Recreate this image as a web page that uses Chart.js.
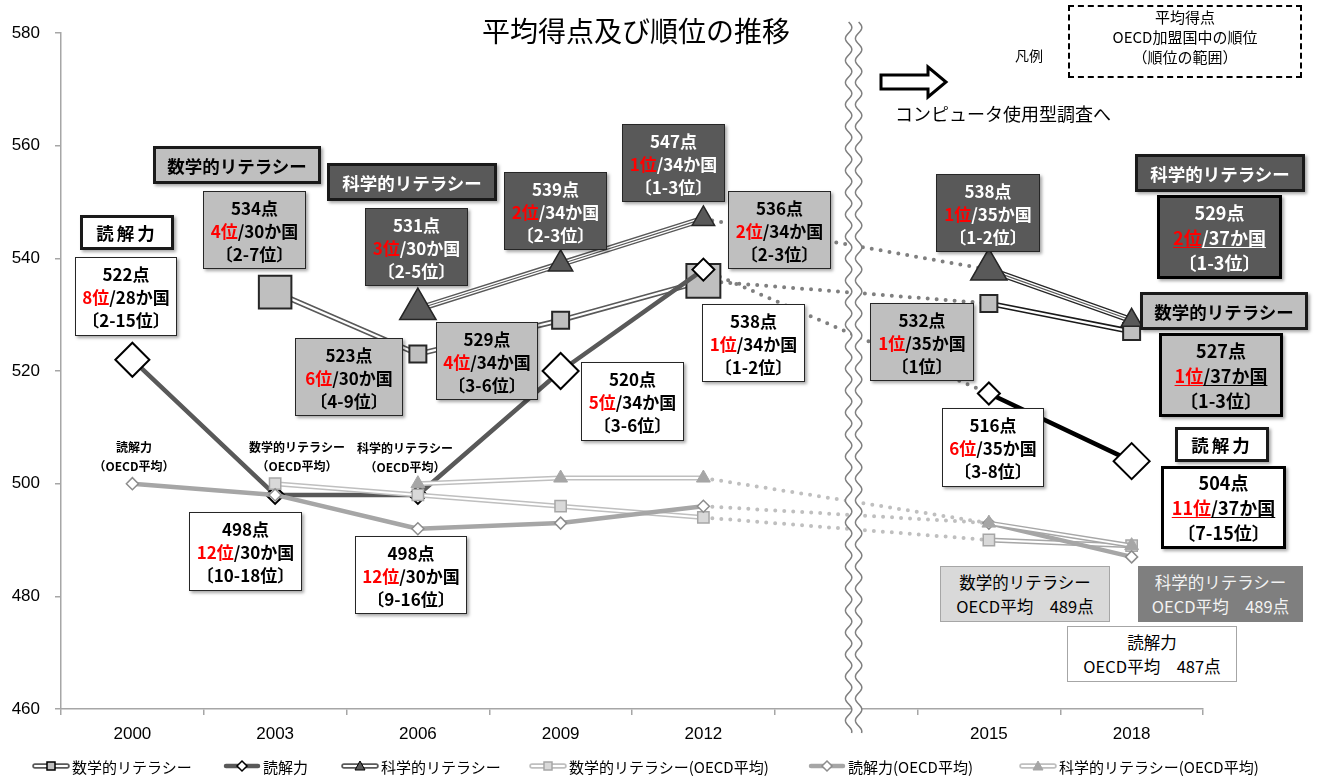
<!DOCTYPE html>
<html lang="ja">
<head>
<meta charset="utf-8">
<title>平均得点及び順位の推移</title>
<script src="https://cdn.jsdelivr.net/npm/chart.js@4.4.1/dist/chart.umd.min.js"></script>
<style>
  html, body { margin: 0; padding: 0; background: #fff; }
  #wrap { position: relative; width: 1321px; height: 779px; overflow: hidden; font-family: 'Noto Sans CJK JP', sans-serif; color: #000; }
  #chart { position: absolute; left: 0; top: 0; }
  .abs { position: absolute; white-space: nowrap; }
  .box { position: absolute; box-sizing: border-box; display: flex; flex-direction: column; justify-content: center; align-items: center; text-align: center; white-space: nowrap; box-shadow: 2px 2px 3px rgba(0,0,0,.35); }
  .val { font-weight: 700; font-size: 17px; line-height: 23px; border: 1.5px solid #262626; }
  .val.big { font-size: 18px; line-height: 25px; border: 3px solid #000; }
  .w { background: #fff; color: #000; }
  .g { background: #bfbfbf; color: #000; }
  .d { background: #595959; color: #fff; }
  .r { color: #ff0000; }
  .u { text-decoration: underline; text-underline-offset: 2px; }
  .cat { font-weight: 700; font-size: 17.5px; border: 3px solid #1a1a1a; }
  .oecd { font-size: 16.5px; line-height: 24px; box-shadow: none; }
  .tiny { font-weight: 700; font-size: 12px; line-height: 19px; text-align: center; transform: translateX(-50%); }
  .leg { position: absolute; top: 757px; height: 18px; display: flex; align-items: center; font-size: 15px; white-space: nowrap; }
  .leg svg { margin-right: 2px; }
</style>
</head>
<body>
<div id="wrap">
  <canvas id="chart" width="1321" height="779"></canvas>
</div>
<script>
// 調査年（5番目の空欄はコンピュータ使用型調査への切り替え）
const years = ['2000', '2003', '2006', '2009', '2012', '', '2015', '2018'];
const yTicks = [460, 480, 500, 520, 540, 560, 580];
const seriesNames = ['数学的リテラシー', '読解力', '科学的リテラシー'];

// 日本の平均得点
const mathJp = [null, 534, 523, 529, 536, null, 532, 527];
const readJp = [522, 498, 498, 520, 538, null, 516, 504];
const sciJp  = [null, null, 531, 539, 547, null, 538, 529];
// OECD平均
const mathOecd = [null, 500, 498, 496, 494, null, 490, 489];
const readOecd = [500, 498, 492, 493, 496, null, 493, 487];
const sciOecd  = [null, null, 500, 501, 501, null, 493, 489];

// OECD加盟国中の順位
const nations   = [28, 30, 30, 34, 34, null, 35, 37];
const mathRank  = [null, 4, 6, 4, 2, null, 1, 1];
const mathRange = [null, '2-7', '4-9', '3-6', '2-3', null, '1', '1-3'];
const readRank  = [8, 12, 12, 5, 1, null, 6, 11];
const readRange = ['2-15', '10-18', '9-16', '3-6', '1-2', null, '3-8', '7-15'];
const sciRank   = [null, null, 3, 2, 1, null, 1, 2];
const sciRange  = [null, null, '2-5', '2-3', '1-3', null, '1-2', '1-3'];

// marker sizes
const mathR = [0, 23, 12, 12, 24, 0, 12, 12];
const readR = [17, 9, 9, 18, 11, 0, 11, 18];
const sciR  = [0, 0, 21, 14, 13, 0, 21, 12];

// box positions [left, top, width, height]
const readBox = [[75,257,102,79],[189,512,113,79],[355,536,112,78],[581,362,103,79],[702,304,103,78],null,[942,408,102,79],[1161,466,125,83]];
const mathBox = [null,[203,191,103,78],[295,338,108,78],[436,322,102,78],[728,191,103,78],null,[870,303,104,78],[1159,333,124,84]];
const sciBox  = [null,null,[365,208,103,78],[504,172,103,78],[622,124,103,78],null,[936,174,104,78],[1157,195,125,84]];

Chart.defaults.font.family = "'Liberation Sans Narrow', 'Liberation Sans', 'Noto Sans CJK JP', sans-serif";

const later = (a, b) => ({ borderColor: c => c.p0DataIndex >= 6 ? b : a });

function line(data, color, width, order, extra) {
  return Object.assign({ data, borderColor: color, borderWidth: width, pointRadius: 0, pointHoverRadius: 0,
    fill: false, tension: 0, spanGaps: false, borderCapStyle: 'round', borderJoinStyle: 'round', order }, extra || {});
}
function bridge(data, color, order) {
  const d = data.map((v, i) => (i === 4 || i === 6) ? v : null);
  return { data: d, borderColor: color, borderWidth: 4, borderDash: [0, 9], borderCapStyle: 'round',
    spanGaps: true, pointRadius: 0, pointHoverRadius: 0, order };
}
function marks(data, style, radius, fill, border, bw, order) {
  return { data, showLine: false, pointStyle: style, pointRadius: radius, pointHoverRadius: radius,
    pointBackgroundColor: fill, pointBorderColor: border, pointBorderWidth: bw, order };
}

const datasets = [
  bridge(mathJp, '#7f7f7f', 130), bridge(readJp, '#7f7f7f', 130), bridge(sciJp, '#7f7f7f', 130),
  bridge(mathOecd, '#bfbfbf', 125), bridge(readOecd, '#bfbfbf', 125), bridge(sciOecd, '#bfbfbf', 125),

  line(mathJp, '#595959', 5.5, 100, { segment: later('#595959', '#1a1a1a') }),
  line(mathJp, '#ffffff', 2.2, 99),
  marks(mathJp, 'rect', mathR, '#bfbfbf', '#262626', 2, 98),

  line(readJp, '#595959', 4.5, 97, { segment: later('#595959', '#000000') }),
  marks(readJp, 'rectRot', readR, '#ffffff', '#000000', 2, 96),

  line(sciJp, '#595959', 6.5, 95, { segment: later('#595959', '#262626') }),
  line(sciJp, '#ffffff', 3.8, 94),
  line(sciJp, '#595959', 1.2, 93),
  marks(sciJp, 'triangle', sciR, '#595959', '#262626', 1.5, 92),

  line(mathOecd, '#bfbfbf', 5, 80, { segment: later('#bfbfbf', '#a6a6a6') }),
  line(mathOecd, '#ffffff', 2, 79),
  marks(mathOecd, 'rect', 8, '#d9d9d9', '#a6a6a6', 1.5, 78),

  line(readOecd, '#a6a6a6', 4.5, 77),
  marks(readOecd, 'rectRot', 6, '#ffffff', '#8c8c8c', 1.5, 76),

  line(sciOecd, '#bfbfbf', 5, 75, { segment: later('#bfbfbf', '#a6a6a6') }),
  line(sciOecd, '#ffffff', 2, 74),
  marks(sciOecd, 'triangle', 8, '#a6a6a6', '#a6a6a6', 1, 73)
];

// wavy break line and arrow
const extras = {
  id: 'extras',
  afterDraw(chart) {
    const c = chart.ctx;
    const x0 = chart.scales.x.getPixelForValue(5) + 2.5;
    const gap = 10, top = 22, bottom = 733, amp = 3.2, per = 22;
    const wx = (b, y) => b + amp * Math.sin((y - top) / per * 2 * Math.PI);
    c.save();
    c.beginPath();
    for (let y = top; y <= bottom; y++) c.lineTo(wx(x0, y), y);
    for (let y = bottom; y >= top; y--) c.lineTo(wx(x0 + gap, y), y);
    c.closePath();
    c.fillStyle = '#fff';
    c.fill();
    c.strokeStyle = '#808080';
    c.lineWidth = 1.5;
    [x0, x0 + gap].forEach(b => {
      c.beginPath();
      c.moveTo(wx(b, top), top);
      for (let y = top + 1; y <= bottom; y++) c.lineTo(wx(b, y), y);
      c.stroke();
    });
    c.beginPath();
    c.moveTo(881, 75); c.lineTo(928, 75); c.lineTo(928, 67); c.lineTo(946, 82);
    c.lineTo(928, 97); c.lineTo(928, 89); c.lineTo(881, 89); c.closePath();
    c.fillStyle = '#fff';
    c.fill();
    c.lineWidth = 3;
    c.strokeStyle = '#000';
    c.lineJoin = 'miter';
    c.stroke();
    c.restore();
  }
};

const tickFont = { family: "'Liberation Sans Narrow', 'Liberation Sans', sans-serif", size: 17 };

new Chart(document.getElementById('chart'), {
  type: 'line',
  data: { labels: years, datasets: datasets },
  options: {
    responsive: false,
    animation: false,
    events: [],
    layout: { padding: { left: 0, right: 118, top: 33, bottom: 30 } },
    plugins: { legend: { display: false }, tooltip: { enabled: false } },
    scales: {
      x: {
        offset: true,
        grid: { offset: true, drawOnChartArea: false, tickLength: 6, color: '#a6a6a6', lineWidth: 1.5 },
        border: { color: '#a6a6a6', width: 1.5 },
        ticks: { color: '#000', font: tickFont, padding: 9, maxRotation: 0, autoSkip: false },
        afterFit: s => { s.height = 40; }
      },
      y: {
        min: 460, max: 580,
        afterBuildTicks: s => { s.ticks = yTicks.map(v => ({ value: v })); },
        grid: { drawOnChartArea: false, tickLength: 6, color: '#a6a6a6', lineWidth: 1.5 },
        border: { color: '#a6a6a6', width: 1.5 },
        ticks: { color: '#000', font: tickFont, padding: 15 },
        afterFit: s => { s.width = 61; }
      }
    }
  },
  plugins: [extras]
});

// ---- text overlays ----
const wrap = document.getElementById('wrap');
function add(cls, html, css) {
  const d = document.createElement('div');
  d.className = cls;
  d.innerHTML = html;
  Object.assign(d.style, css);
  wrap.appendChild(d);
  return d;
}
function place(p) { return { left: p[0] + 'px', top: p[1] + 'px', width: p[2] + 'px', height: p[3] + 'px' }; }

add('abs', '平均得点及び順位の推移', { left: '482px', top: '15px', fontSize: '28px', lineHeight: '30px' });
add('abs', '凡例', { left: '1015px', top: '45px', fontSize: '14px', lineHeight: '20px' });
add('abs', '平均得点<br>OECD加盟国中の順位<br>（順位の範囲）', {
  left: '1068px', top: '5px', width: '234px', height: '73px', boxSizing: 'border-box',
  border: '2px dashed #000', textAlign: 'center', fontSize: '15px', lineHeight: '20px', paddingTop: '0px'
});
add('abs', 'コンピュータ使用型調査へ', { left: '895px', top: '101px', fontSize: '18px', lineHeight: '24px' });

function valueBoxes(scores, ranks, ranges, boxes, tone) {
  scores.forEach((s, i) => {
    if (s == null || !boxes[i]) return;
    const big = i === 7;
    const rank = big
      ? `<span class="r u">${ranks[i]}位</span><span class="u">/${nations[i]}か国</span>`
      : `<span class="r">${ranks[i]}位</span>/${nations[i]}か国`;
    add('box val ' + tone + (big ? ' big' : ''),
      `<div>${s}点</div><div>${rank}</div><div>〔${ranges[i]}位〕</div>`, place(boxes[i]));
  });
}
valueBoxes(readJp, readRank, readRange, readBox, 'w');
valueBoxes(mathJp, mathRank, mathRange, mathBox, 'g');
valueBoxes(sciJp, sciRank, sciRange, sciBox, 'd');

const catBoxes = [
  [1, 'w', [80, 215, 94, 35]], [0, 'g', [153, 146, 168, 38]], [2, 'd', [327, 163, 170, 38]],
  [2, 'd', [1135, 154, 170, 38]], [0, 'g', [1140, 292, 168, 38]], [1, 'w', [1175, 427, 94, 35]]
];
catBoxes.forEach(([k, tone, p]) => {
  const d = add('box cat ' + tone, seriesNames[k], place(p));
  if (k === 1) d.style.letterSpacing = '3px';
});

// OECD average labels
add('abs tiny', seriesNames[1] + '<br>（OECD平均）', { left: '134px', top: '437px' });
add('abs tiny', seriesNames[0] + '<br>（OECD平均）', { left: '297px', top: '437px' });
add('abs tiny', seriesNames[2] + '<br>（OECD平均）', { left: '405px', top: '438px' });

add('box oecd', `<div>${seriesNames[0]}</div><div>OECD平均　${mathOecd[7]}点</div>`,
  Object.assign(place([940, 566, 170, 56]), { background: '#d9d9d9', border: '1.5px solid #a6a6a6' }));
add('box oecd', `<div>${seriesNames[2]}</div><div>OECD平均　${sciOecd[7]}点</div>`,
  Object.assign(place([1138, 566, 165, 56]), { background: '#7f7f7f', color: '#f2f2f2' }));
add('box oecd', `<div>${seriesNames[1]}</div><div>OECD平均　${readOecd[7]}点</div>`,
  Object.assign(place([1067, 626, 170, 56]), { background: '#fff', border: '1.5px solid #a6a6a6' }));

// legend
function sample(k, oecd) {
  const ln = oecd ? (k === 1 ? '#a6a6a6' : '#bfbfbf') : '#595959';
  let s = '<svg width="38" height="14" viewBox="0 0 38 14">';
  if (k === 1) {
    s += `<line x1="3" y1="7" x2="35" y2="7" stroke="${ln}" stroke-width="4.5" stroke-linecap="round"/>`;
    s += `<path d="M19 2 L24 7 L19 12 L14 7 Z" fill="#fff" stroke="${oecd ? '#8c8c8c' : '#000'}" stroke-width="1.5"/>`;
  } else {
    s += `<line x1="3" y1="7" x2="35" y2="7" stroke="${ln}" stroke-width="5.5" stroke-linecap="round"/>`;
    s += `<line x1="3" y1="7" x2="35" y2="7" stroke="#fff" stroke-width="2.2" stroke-linecap="round"/>`;
    if (k === 0) {
      s += `<rect x="15" y="3" width="8" height="8" fill="${oecd ? '#d9d9d9' : '#bfbfbf'}" stroke="${oecd ? '#a6a6a6' : '#000'}" stroke-width="1.5"/>`;
    } else {
      s += `<path d="M19 2 L24 11 L14 11 Z" fill="${oecd ? '#a6a6a6' : '#595959'}" stroke="${oecd ? '#a6a6a6' : '#000'}" stroke-width="1"/>`;
    }
  }
  return s + '</svg>';
}
const legendX = [32, 223, 341, 529, 808, 1019];
[0, 1, 2, 0, 1, 2].forEach((k, i) => {
  const oecd = i >= 3;
  add('leg', sample(k, oecd) + '<span>' + seriesNames[k] + (oecd ? '(OECD平均)' : '') + '</span>', { left: legendX[i] + 'px' });
});
</script>
</body>
</html>
